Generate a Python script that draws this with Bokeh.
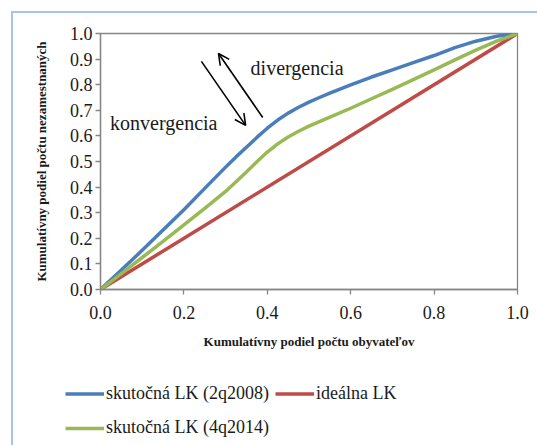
from bokeh.plotting import figure
from bokeh.layouts import column
from bokeh.embed import file_html
from bokeh.resources import INLINE
from bokeh.models import (Range1d, Legend, LegendItem, Label, Arrow, OpenHead,
                          FixedTicker, NumeralTickFormatter)

# ---- data ----
x_share = [0.0, 0.05, 0.1, 0.15, 0.2, 0.25, 0.3, 0.325, 0.35, 0.375, 0.4, 0.425, 0.45,
           0.475, 0.5, 0.525, 0.55, 0.6, 0.65, 0.7, 0.75, 0.8, 0.85, 0.9, 0.95, 1.0]
lk_2q2008 = [0.0, 0.076, 0.153, 0.232, 0.312, 0.395, 0.478, 0.518, 0.556, 0.594, 0.630,
             0.662, 0.689, 0.712, 0.732, 0.750, 0.767, 0.799, 0.830, 0.858, 0.886, 0.914,
             0.945, 0.970, 0.989, 1.0]
lk_4q2014 = [0.0, 0.062, 0.125, 0.188, 0.252, 0.317, 0.383, 0.421, 0.459, 0.499, 0.537,
             0.569, 0.596, 0.618, 0.638, 0.656, 0.673, 0.708, 0.745, 0.782, 0.82, 0.858,
             0.897, 0.935, 0.970, 1.0]
ideal_x = [0.0, 1.0]
ideal_y = [0.0, 1.0]

names = ["skutočná LK (2q2008)", "ideálna LK", "skutočná LK (4q2014)"]
x_ticks = [0.0, 0.2, 0.4, 0.6, 0.8, 1.0]
y_ticks = [0.0, 0.1, 0.2, 0.3, 0.4, 0.5, 0.6, 0.7, 0.8, 0.9, 1.0]

# annotation anchors (data coords)
conv_arrow = (0.242, 0.891, 0.348, 0.641)
div_arrow = (0.389, 0.672, 0.283, 0.922)
conv_text = (0.023, 0.652)
div_text = (0.36, 0.867)

BLUE = "#4a7ebb"
RED = "#be4b48"
GREEN = "#98b954"
GRAY = "#868686"
SERIF = "Liberation Serif"
TXT = "#1a1a1a"

p = figure(frame_width=417, frame_height=256,
           min_border_left=87, min_border_right=20, min_border_top=20, min_border_bottom=71,
           x_range=Range1d(0, 1), y_range=Range1d(0, 1),
           output_backend="svg", toolbar_location=None)

p.grid.visible = False
p.outline_line_color = GRAY
p.outline_line_width = 1.3
p.background_fill_color = "white"
p.border_fill_color = "white"

for ax in (p.xaxis[0], p.yaxis[0]):
    ax.axis_line_color = GRAY
    ax.axis_line_width = 1.3
    ax.major_tick_line_color = GRAY
    ax.major_tick_line_width = 1.3
    ax.major_tick_out = 5
    ax.major_tick_in = 0
    ax.minor_tick_line_color = None
    ax.major_label_text_font = SERIF
    ax.major_label_text_font_size = "18px"
    ax.major_label_text_color = TXT
    ax.axis_label_text_font = SERIF
    ax.axis_label_text_font_style = "bold"
    ax.axis_label_text_font_size = "13px"
    ax.axis_label_text_color = TXT
    ax.formatter = NumeralTickFormatter(format="0.0")

p.xaxis[0].ticker = FixedTicker(ticks=x_ticks)
p.yaxis[0].ticker = FixedTicker(ticks=y_ticks)
p.xaxis[0].axis_label = "Kumulatívny podiel počtu obyvateľov"
p.yaxis[0].axis_label = "Kumulatívny podiel počtu nezamestnaných"
p.xaxis[0].major_label_standoff = 11
p.yaxis[0].major_label_standoff = 3
p.xaxis[0].axis_label_standoff = 12
p.yaxis[0].axis_label_standoff = 18

r_ideal = p.line(ideal_x, ideal_y, line_color=RED, line_width=3.5)
r_2008 = p.line(x_share, lk_2q2008, line_color=BLUE, line_width=3.5, line_join="round")
r_2014 = p.line(x_share, lk_4q2014, line_color=GREEN, line_width=3.5, line_join="round")

p.add_layout(Arrow(end=OpenHead(size=11, line_width=1.6, line_color="black"),
                   x_start=conv_arrow[0], y_start=conv_arrow[1],
                   x_end=conv_arrow[2], y_end=conv_arrow[3],
                   line_width=1.6, line_color="black"))
p.add_layout(Arrow(end=OpenHead(size=11, line_width=1.6, line_color="black"),
                   x_start=div_arrow[0], y_start=div_arrow[1],
                   x_end=div_arrow[2], y_end=div_arrow[3],
                   line_width=1.6, line_color="black"))
p.add_layout(Label(x=conv_text[0], y=conv_text[1], text="konvergencia",
                   text_font=SERIF, text_font_size="20px", text_baseline="middle",
                   text_color=TXT))
p.add_layout(Label(x=div_text[0], y=div_text[1], text="divergencia",
                   text_font=SERIF, text_font_size="20px", text_baseline="middle",
                   text_color=TXT))

# ---- legend strip (separate small figure under the chart) ----
q = figure(width=524, height=85, x_range=Range1d(0, 1), y_range=Range1d(0, 1),
           x_axis_type=None, y_axis_type=None, min_border=0,
           output_backend="svg", toolbar_location=None)
q.grid.visible = False
q.outline_line_color = None
q.background_fill_color = "white"
q.border_fill_color = "white"
# hidden copies of the series, only used to draw the legend samples
l_2008 = q.line(x_share, lk_2q2008, line_color=BLUE, line_width=3.5, visible=False)
l_ideal = q.line(ideal_x, ideal_y, line_color=RED, line_width=3.5, visible=False)
l_2014 = q.line(x_share, lk_4q2014, line_color=GREEN, line_width=3.5, visible=False)

for fig in (p, q):
    if "frame_align" in fig.properties():
        fig.frame_align = False

def make_legend(items, loc, gh):
    return Legend(items=items, location=loc, orientation="horizontal",
                  padding=0, margin=0, spacing=6, glyph_width=39, glyph_height=gh,
                  label_height=gh, label_standoff=2,
                  label_text_font=SERIF, label_text_font_size="18px",
                  label_text_color=TXT,
                  border_line_alpha=0, background_fill_alpha=0)

leg1 = make_legend([LegendItem(label=names[0], renderers=[l_2008]),
                    LegendItem(label=names[1], renderers=[l_ideal])], (52, 37), 29)
leg2 = make_legend([LegendItem(label=names[2], renderers=[l_2014])], (52, 7), 18)
q.add_layout(leg1, "center")
q.add_layout(leg2, "center")

layout = column(p, q, spacing=0)
layout.styles = {"border-left": "2px solid #a7c4e8", "border-top": "2px solid #a7c4e8",
                 "margin-left": "11px", "margin-top": "11px"}

open("out.html", "w").write(file_html(layout, INLINE))
